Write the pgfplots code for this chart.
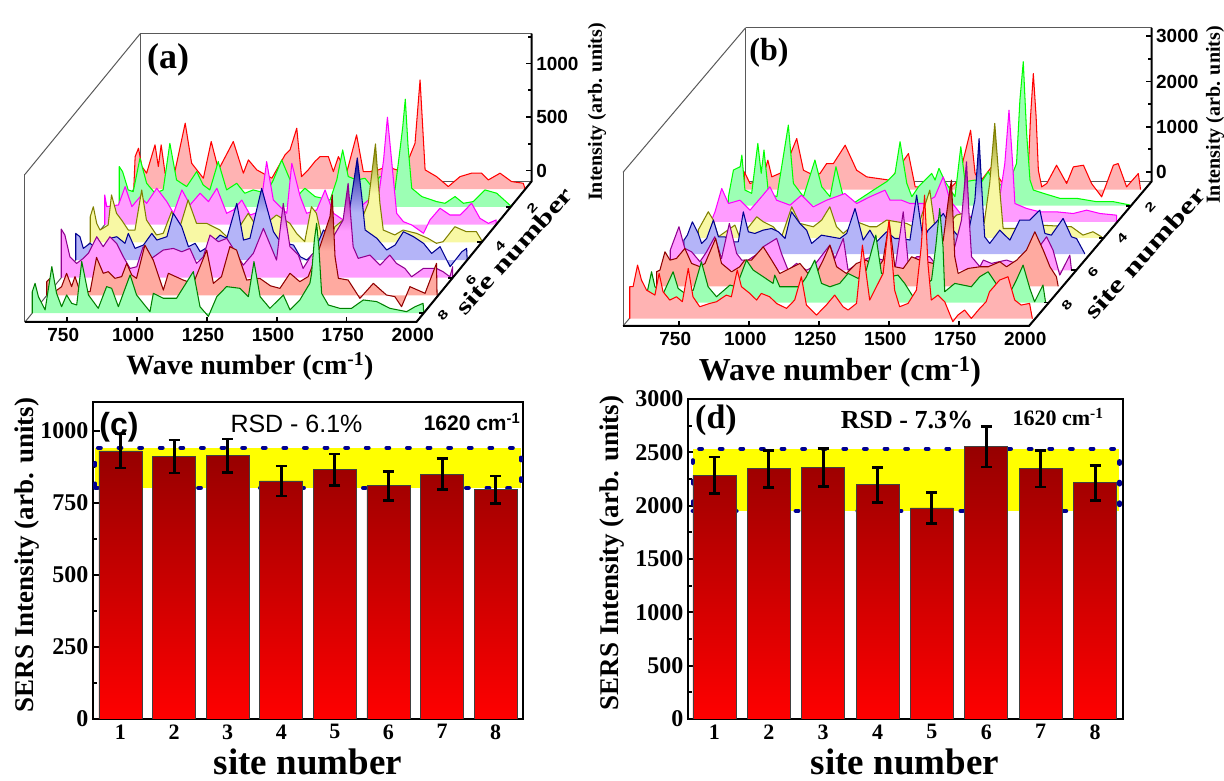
\documentclass[border=0pt]{standalone}
\usepackage{fontspec}
\setmainfont{Liberation Serif}
\setsansfont{Liberation Sans}
\usepackage{pgfplots}
\usepackage{pgfplotstable}
\pgfplotsset{compat=1.18}
\pgfplotsset{every axis/.append style={/pgf/number format/assume math mode=true,/pgf/number format/1000 sep={}}}
\tikzset{tk/.style={black,line width=1.8pt}}
\newcommand\fs[1]{\fontsize{#1}{#1}\selectfont}
\definecolor{pr}{HTML}{FFB3B3}\definecolor{pg}{HTML}{9CFFB4}\definecolor{pm}{HTML}{FF9CFF}
\definecolor{py}{HTML}{F8F8A4}\definecolor{pb}{HTML}{B4B4F8}\definecolor{ps}{HTML}{FFAAA0}
\definecolor{lo}{HTML}{808000}\definecolor{ln}{HTML}{000090}\definecolor{lp}{HTML}{900090}\definecolor{ld}{HTML}{900000}\definecolor{lg}{HTML}{008000}
\definecolor{yel}{RGB}{255,255,0}\definecolor{rr}{RGB}{255,0,0}\definecolor{gg}{RGB}{0,255,0}\definecolor{mm}{RGB}{255,0,255}
\pgfdeclareverticalshading{fn}{100bp}{color(0bp)=(pb);color(50bp)=(pb);color(62bp)=(pb!60!ln);color(75bp)=(ln);color(100bp)=(ln)}
\pgfdeclareverticalshading{fo}{100bp}{color(0bp)=(py);color(50bp)=(py);color(62bp)=(py!60!lo);color(75bp)=(lo);color(100bp)=(lo)}
\pgfdeclareverticalshading{fp}{100bp}{color(0bp)=(pm);color(50bp)=(pm);color(62bp)=(pm!60!lp);color(75bp)=(lp);color(100bp)=(lp)}
\pgfdeclareverticalshading{fd}{100bp}{color(0bp)=(ps);color(50bp)=(ps);color(62bp)=(ps!60!ld);color(75bp)=(ld);color(100bp)=(ld)}
\newcommand\spec[4]{\addplot3[#1,line width=1.05pt,line join=round,#2,forget plot] table[x=w,y expr=#3,z=i]{#4};}

% ---- panel (a)
\pgfplotstableread[row sep=\\]{w i\\600 -100\\605 205\\617 283\\629 112\\646 50\\676 315\\688 112\\698 315\\712 50\\742 3\\784 517\\807 143\\849 3\\877 346\\903 81\\956 346\\992 50\\1010 174\\1040 81\\1094 3\\1141 221\\1159 268\\1183 470\\1200 18\\1224 81\\1248 159\\1266 205\\1296 205\\1314 65\\1332 205\\1361 50\\1397 408\\1421 65\\1445 65\\1475 81\\1504 112\\1540 81\\1582 174\\1606 330\\1624 922\\1642 81\\1683 18\\1725 -75\\1767 18\\1808 50\\1844 50\\1868 -13\\1910 50\\1951 -28\\1993 -44\\2000 -100\\}\aone
\pgfplotstableread[row sep=\\]{w i\\600 -100\\600 277\\612 230\\632 59\\650 43\\674 355\\698 121\\728 28\\757 59\\781 495\\805 152\\841 90\\877 230\\900 106\\924 59\\954 324\\984 59\\1020 121\\1049 28\\1079 59\\1127 28\\1151 152\\1181 339\\1211 152\\1235 -3\\1264 75\\1300 -3\\1354 -35\\1378 152\\1399 433\\1419 184\\1449 152\\1479 168\\1503 90\\1533 184\\1568 152\\1586 59\\1604 433\\1614 651\\1623 907\\1633 464\\1646 75\\1682 -3\\1735 -50\\1765 -66\\1801 -3\\1831 -66\\1866 -50\\1908 59\\1950 28\\1998 -85\\2000 -100\\}\atwo
\pgfplotstableread[row sep=\\]{w i\\600 -100\\600 177\\607 68\\649 84\\673 255\\697 68\\727 162\\750 99\\786 240\\822 115\\846 6\\876 224\\905 84\\941 193\\971 115\\1001 240\\1036 6\\1060 37\\1090 130\\1120 -10\\1155 22\\1179 489\\1203 130\\1251 6\\1269 473\\1299 162\\1322 6\\1358 37\\1388 224\\1418 6\\1453 -56\\1501 37\\1543 130\\1579 162\\1597 499\\1611 904\\1626 499\\1644 6\\1668 -72\\1698 -103\\1740 -181\\1763 -56\\1799 53\\1835 -10\\1871 -10\\1912 99\\1942 -41\\1972 -88\\2000 -56\\2000 -100\\}\athree
\pgfplotstableread[row sep=\\]{w i\\600 -100\\600 140\\611 233\\623 78\\635 15\\664 62\\676 343\\694 171\\712 109\\736 15\\760 15\\784 389\\801 109\\837 -31\\861 -16\\891 187\\921 46\\950 296\\980 78\\1016 78\\1040 46\\1064 15\\1088 -47\\1111 -47\\1165 171\\1195 46\\1231 78\\1266 156\\1314 78\\1338 -16\\1367 -94\\1391 233\\1409 171\\1427 -47\\1451 -109\\1475 46\\1504 109\\1540 140\\1570 109\\1594 265\\1620 820\\1636 265\\1648 15\\1689 -31\\1719 15\\1767 -16\\1808 -63\\1838 -109\\1862 -94\\1904 46\\1945 0\\1981 0\\1999 -78\\2000 -100\\}\afour
\pgfplotstableread[row sep=\\]{w i\\600 -100\\600 149\\615 118\\627 9\\651 56\\675 9\\699 25\\723 103\\747 118\\776 56\\788 149\\812 9\\842 40\\872 149\\890 87\\926 118\\949 336\\979 212\\1003 25\\1027 56\\1045 -22\\1074 25\\1116 134\\1140 103\\1176 430\\1200 87\\1223 103\\1265 570\\1307 165\\1331 71\\1379 40\\1403 -69\\1426 -100\\1450 -38\\1486 181\\1534 56\\1557 118\\1581 399\\1607 854\\1623 492\\1635 181\\1677 103\\1712 -6\\1742 40\\1772 165\\1808 118\\1844 56\\1873 -38\\1903 25\\1939 -162\\1981 -22\\1998 9\\2000 -100\\}\afive
\pgfplotstableread[row sep=\\]{w i\\600 -100\\600 355\\613 299\\631 96\\655 34\\679 81\\697 128\\727 283\\750 190\\774 283\\798 221\\822 96\\846 -13\\870 3\\893 190\\923 81\\965 159\\1001 174\\1031 143\\1060 174\\1084 34\\1108 96\\1132 299\\1162 237\\1192 268\\1215 174\\1251 18\\1287 128\\1323 361\\1370 65\\1394 595\\1418 190\\1448 112\\1465 -13\\1495 112\\1531 190\\1573 283\\1608 439\\1626 782\\1644 190\\1662 81\\1704 112\\1740 18\\1775 112\\1799 34\\1829 -13\\1853 -91\\1895 -13\\1942 -13\\1966 -44\\1990 -91\\2000 3\\2000 -100\\}\asix
\pgfplotstableread[row sep=\\]{w i\\600 -100\\600 29\\612 60\\629 -65\\653 -18\\671 107\\689 -18\\701 76\\719 -65\\755 -65\\778 256\\802 107\\820 122\\844 60\\868 76\\886 200\\904 91\\921 60\\951 371\\981 230\\1017 -50\\1035 107\\1088 44\\1124 10\\1172 324\\1196 13\\1225 76\\1255 356\\1279 324\\1315 44\\1362 60\\1400 -10\\1434 -34\\1470 107\\1505 29\\1535 76\\1577 356\\1613 637\\1621 840\\1631 263\\1643 60\\1678 44\\1720 -127\\1768 13\\1815 -96\\1845 -111\\1869 -205\\1899 -18\\1953 -80\\1994 200\\1996 -100\\}\aseven
\pgfplotstableread[row sep=\\]{w i\\600 -100\\600 100\\610 179\\622 54\\646 -70\\670 335\\687 85\\705 -40\\723 70\\741 -8\\759 -24\\777 382\\801 70\\836 -55\\866 148\\884 132\\908 -40\\950 257\\973 70\\1021 -86\\1033 85\\1069 39\\1116 39\\1176 288\\1200 -40\\1230 -130\\1260 54\\1295 148\\1343 132\\1373 54\\1393 382\\1415 54\\1450 -55\\1498 70\\1522 -70\\1557 23\\1593 179\\1599 270\\1609 585\\1617 740\\1625 520\\1635 85\\1659 -24\\1700 -55\\1742 -55\\1784 23\\1832 8\\1879 -55\\1939 -86\\1969 -40\\1998 -8\\2000 -100\\}\aeight

% ---- panel (b)
\pgfplotstableread[row sep=\\]{w i\\570 -210\\570 181\\590 -77\\608 -40\\626 -151\\654 439\\668 70\\709 181\\757 918\\781 217\\817 107\\840 144\\864 365\\888 365\\930 770\\971 217\\1007 70\\1049 33\\1090 -4\\1156 586\\1180 -151\\1197 -151\\1269 -151\\1310 -151\\1334 -4\\1378 1102\\1394 144\\1412 -40\\1453 291\\1489 -40\\1543 -4\\1584 217\\1592 1397\\1602 2355\\1612 1397\\1620 217\\1632 -151\\1650 -77\\1685 328\\1721 -77\\1745 291\\1781 328\\1810 -77\\1846 -372\\1888 328\\1905 365\\1935 -151\\1977 144\\1985 -210\\}\bone
\pgfplotstableread[row sep=\\]{w i\\562 -210\\562 -11\\580 579\\604 652\\610 910\\621 136\\645 63\\667 1168\\679 505\\689 1021\\705 63\\735 -11\\776 1574\\794 284\\830 -11\\871 800\\895 210\\925 -11\\946 652\\972 -11\\1008 -158\\1044 -11\\1080 136\\1127 321\\1157 505\\1175 1205\\1199 284\\1217 -11\\1241 210\\1288 505\\1300 357\\1314 615\\1336 321\\1371 -11\\1392 1095\\1407 321\\1443 357\\1467 321\\1490 542\\1520 210\\1568 357\\1591 726\\1603 2126\\1615 2974\\1627 1389\\1639 357\\1651 136\\1687 63\\1746 -48\\1806 -48\\1877 -122\\1937 -122\\1996 -195\\1996 -210\\}\btwo
\pgfplotstableread[row sep=\\]{w i\\551 -210\\551 -173\\563 11\\587 527\\611 195\\652 269\\688 48\\724 306\\759 564\\783 269\\831 158\\872 380\\914 122\\962 269\\1027 416\\1069 195\\1116 343\\1170 490\\1188 269\\1229 269\\1259 195\\1307 195\\1348 343\\1378 785\\1402 269\\1444 -63\\1491 -100\\1539 -100\\1575 122\\1598 1080\\1613 2259\\1626 1080\\1634 195\\1676 85\\1723 11\\1783 11\\1842 -26\\1890 48\\1938 -26\\1997 -63\\1997 -210\\}\bthree
\pgfplotstableread[row sep=\\]{w i\\552 -210\\552 -35\\588 370\\606 186\\624 -183\\683 75\\701 -210\\761 259\\784 149\\820 38\\850 -183\\886 480\\915 112\\963 38\\993 186\\1022 480\\1046 38\\1070 -109\\1118 149\\1165 38\\1189 38\\1225 186\\1296 112\\1320 38\\1343 149\\1379 849\\1397 38\\1427 -35\\1474 296\\1498 333\\1540 186\\1573 112\\1593 1000\\1611 2325\\1629 849\\1641 0\\1689 0\\1712 112\\1772 75\\1885 38\\1926 -146\\1962 -72\\1992 -183\\1992 -210\\}\bfour
\pgfplotstableread[row sep=\\]{w i\\550 -210\\550 100\\562 210\\580 505\\601 247\\613 26\\631 136\\655 542\\673 173\\696 173\\726 63\\744 63\\762 726\\780 284\\803 247\\833 321\\863 357\\887 284\\911 136\\934 726\\964 468\\988 321\\1006 26\\1041 210\\1107 136\\1131 247\\1161 800\\1190 100\\1214 321\\1238 63\\1274 284\\1303 136\\1333 136\\1357 100\\1381 1095\\1404 100\\1422 321\\1452 505\\1476 689\\1511 321\\1541 100\\1565 247\\1589 984\\1604 2347\\1616 984\\1624 173\\1642 26\\1678 321\\1714 100\\1749 542\\1785 542\\1821 763\\1839 247\\1862 210\\1904 579\\1934 173\\1952 136\\1981 -195\\1981 -210\\}\bfive
\pgfplotstableread[row sep=\\]{w i\\550 -210\\550 237\\581 753\\602 273\\626 200\\656 -21\\680 200\\709 531\\733 52\\761 826\\787 163\\805 16\\828 16\\864 163\\882 310\\930 495\\947 163\\971 -210\\1001 -58\\1037 -210\\1060 -132\\1120 347\\1138 52\\1168 495\\1185 -206\\1239 16\\1269 89\\1310 16\\1334 -206\\1352 -210\\1382 1084\\1400 -58\\1430 89\\1477 89\\1495 -58\\1525 16\\1566 310\\1590 900\\1608 2190\\1618 900\\1626 89\\1656 -132\\1668 16\\1697 -58\\1751 16\\1786 -58\\1846 126\\1894 531\\1917 237\\1941 -316\\1977 126\\1983 -206\\1983 -210\\}\bsix
\pgfplotstableread[row sep=\\]{w i\\550 -210\\550 114\\562 151\\580 556\\598 372\\621 409\\651 630\\675 299\\705 225\\723 299\\761 851\\782 299\\818 114\\847 225\\865 372\\889 372\\931 667\\961 372\\990 77\\1026 188\\1062 299\\1091 77\\1121 77\\1145 372\\1169 704\\1193 225\\1228 77\\1264 299\\1300 372\\1335 151\\1359 372\\1381 1220\\1401 225\\1431 188\\1461 446\\1490 372\\1538 299\\1574 815\\1592 1699\\1603 2141\\1615 446\\1627 77\\1663 188\\1705 225\\1734 225\\1776 335\\1800 225\\1836 372\\1871 593\\1901 999\\1931 593\\1955 225\\1978 4\\1984 -195\\1984 -210\\}\bseven
\pgfplotstableread[row sep=\\]{w i\\567 -210\\567 66\\581 472\\593 140\\623 -7\\658 472\\676 103\\700 -7\\730 66\\759 693\\783 140\\813 -81\\861 177\\884 140\\920 730\\944 509\\980 361\\1015 214\\1021 398\\1039 140\\1110 140\\1134 361\\1164 730\\1188 214\\1218 140\\1253 214\\1283 435\\1319 324\\1348 509\\1382 1282\\1402 435\\1432 361\\1461 398\\1485 214\\1515 -81\\1539 -7\\1551 140\\1581 288\\1596 1024\\1610 1872\\1622 1024\\1628 30\\1664 214\\1723 140\\1753 361\\1783 472\\1819 140\\1866 66\\1884 288\\1908 619\\1932 103\\1949 -192\\1979 177\\1988 -192\\1988 -210\\}\beight
\pgfplotstableread[row sep=\\]{w i\\552 -210\\552 498\\564 498\\580 977\\594 645\\612 424\\642 313\\657 792\\671 387\\695 203\\719 276\\740 166\\761 903\\778 276\\802 55\\838 129\\862 166\\897 313\\915 276\\936 866\\951 498\\981 350\\1005 203\\1022 350\\1052 276\\1076 129\\1112 18\\1141 203\\1165 719\\1183 92\\1219 -129\\1254 92\\1284 313\\1314 55\\1332 -18\\1362 129\\1383 1419\\1409 203\\1433 498\\1457 792\\1478 1972\\1498 424\\1516 55\\1546 129\\1576 424\\1593 1382\\1605 2524\\1617 1013\\1629 203\\1653 313\\1677 166\\1706 -276\\1724 -129\\1748 -18\\1772 -203\\1802 18\\1825 166\\1837 387\\1873 645\\1903 719\\1927 203\\1950 92\\1980 129\\1990 -210\\}\bnine

\pgfplotsset{
 wall/.style={
  3d box=background,
  axis line style={draw=black!65,line width=1pt},
  major tick length=0pt,minor tick length=0pt,
  grid=none,
  clip=false,
  ticklabel style={font=\sffamily\bfseries\fs{19}},
  ytick=\empty,
  ztick pos=right,
  xtick={750,1000,1250,1500,1750,2000},
  xticklabel style={yshift=-3pt},
  zticklabel style={anchor=west,xshift=1pt},
 },
 barpanel/.style={
  scale only axis,
  axis line style={line width=2pt,draw=black},
  tick style={black,line width=1.8pt},
  tick align=inside,
  major tick length=7pt,minor tick length=4pt,
  xtick={1,...,8},
  xtick pos=bottom,ytick pos=left,
  yticklabel style={font=\bfseries\fs{24},xshift=-1pt},
  xticklabel style={font=\bfseries\fs{22},yshift=-2pt},
  minor y tick num=1,
 },
 rbar/.style={ybar,bar width=43pt,bar shift=0pt,draw=black!75,line width=0.8pt,
   bottom color=rr,top color={rgb,255:red,150;green,0;blue,0},
   error bars/.cd,y dir=both,y explicit,
   error bar style={line width=3pt,black},
   error mark options={rotate=90,mark size=5.5pt,line width=2.6pt,black}},
 band/.style={fill=yel,draw=ln,line width=4.2pt,line cap=round,dash pattern=on 2.6pt off 18pt},
}

\begin{document}
\begin{tikzpicture}[x=1pt,y=1pt]
\useasboundingbox (0,0) rectangle (1224pt,781pt);

% ---------------- (a)
\begin{axis}[wall,at={(25pt,459pt)},anchor=south west,
  x={(0.2796pt,0pt)},y={(-14.5pt,-17.7pt)},z={(0pt,0.107pt)},
  xmin=600,xmax=2000,ymin=0.55,ymax=8.5,zmin=-100,zmax=1280,
  ztick={0,500,1000}]
\spec{rr}{fill=pr}{1}{\aone}
\spec{gg}{fill=pg}{2}{\atwo}
\spec{mm}{fill=pm}{3}{\athree}
\spec{lo}{shading=fo}{4}{\afour}
\spec{ln}{shading=fn}{5}{\afive}
\spec{lp}{shading=fp}{6}{\asix}
\spec{ld}{shading=fd}{7}{\aseven}
\spec{lg}{fill=pg}{8}{\aeight}
\draw[black,line width=2pt] (axis cs:600,8.5,-100)--(axis cs:2000,8.5,-100)--(axis cs:2000,0.55,-100)--(axis cs:2000,0.55,1280);
\pgfplotsinvokeforeach{750,1000,1250,1500,1750}{\draw[tk] (axis cs:#1,8.5,-100)--++(0pt,5pt);}
\pgfplotsinvokeforeach{0,500,1000}{\draw[tk] (axis cs:2000,0.55,#1)--++(-6pt,0pt);}
\pgfplotsinvokeforeach{250,750,1250}{\draw[tk] (axis cs:2000,0.55,#1)--++(-4pt,0pt);}
\pgfplotsinvokeforeach{2,4,6,8}{\draw[tk] (axis cs:2000,#1,-100)--++(-5pt,0pt);}
\end{axis}

% ---------------- (b)
\begin{axis}[wall,at={(623pt,455pt)},anchor=south west,
  x={(0.28pt,0pt)},y={(-13.7pt,-16.15pt)},z={(0pt,0.0452pt)},
  xmin=550,xmax=2000,ymin=0.5,ymax=9.45,zmin=-210,zmax=3190,
  ztick={0,1000,2000,3000}]
\spec{rr}{fill=pr}{1}{\bone}
\spec{gg}{fill=pg}{2}{\btwo}
\spec{mm}{fill=pm}{3}{\bthree}
\spec{lo}{shading=fo}{4}{\bfour}
\spec{ln}{shading=fn}{5}{\bfive}
\spec{lp}{shading=fp}{6}{\bsix}
\spec{ld}{shading=fd}{7}{\bseven}
\spec{lg}{fill=pg}{8}{\beight}
\spec{rr}{fill=pr}{9}{\bnine}
\draw[black,line width=2pt] (axis cs:550,9.45,-210)--(axis cs:2000,9.45,-210)--(axis cs:2000,0.5,-210)--(axis cs:2000,0.5,3190);
\pgfplotsinvokeforeach{750,1000,1250,1500,1750}{\draw[tk] (axis cs:#1,9.45,-210)--++(0pt,5pt);}
\pgfplotsinvokeforeach{0,1000,2000,3000}{\draw[tk] (axis cs:2000,0.5,#1)--++(-6pt,0pt);}
\pgfplotsinvokeforeach{500,1500,2500}{\draw[tk] (axis cs:2000,0.5,#1)--++(-4pt,0pt);}
\pgfplotsinvokeforeach{2,4,6,8}{\draw[tk] (axis cs:2000,#1,-210)--++(-5pt,0pt);}
\end{axis}

% ---------------- (c)
\begin{axis}[barpanel,at={(93pt,62pt)},anchor=south west,width=430pt,height=317pt,
  xmin=0.488,xmax=8.51,ymin=0,ymax=1100,ytick={0,250,500,750,1000}]
\addplot[band] coordinates {(0.53,802)(8.47,802)(8.47,941)(0.53,941)} -- cycle;
\addplot[rbar] coordinates {(1,930)+-(0,59)(2,911)+-(0,57)(3,914)+-(0,58)(4,826)+-(0,52)(5,865)+-(0,54)(6,809)+-(0,50)(7,850)+-(0,53)(8,795)+-(0,48)};
\end{axis}

% ---------------- (d)
\begin{axis}[barpanel,at={(688pt,62pt)},anchor=south west,width=435pt,height=320pt,
  xmin=0.513,xmax=8.515,ymin=0,ymax=3000,ytick={0,500,1000,1500,2000,2500,3000}]
\addplot[band] coordinates {(0.6,1951)(8.45,1951)(8.45,2533)(0.6,2533)} -- cycle;
\addplot[rbar] coordinates {(1,2285)+-(0,170)(2,2345)+-(0,172)(3,2357)+-(0,178)(4,2195)+-(0,163)(5,1979)+-(0,147)(6,2552)+-(0,188)(7,2345)+-(0,170)(8,2214)+-(0,163)};
\end{axis}

% ---------------- text
\newcommand\T[4][]{\node[inner sep=0pt,#1] at (#2pt,781pt-#3pt) {#4};}
\newcommand\Ts[3]{\node[inner sep=0pt,transform shape,rotate=48,yscale=0.72] at (#1pt,781pt-#2pt) {#3};}
\T{168}{60}{\bfseries\fs{36}(a)}
\T{769}{53}{\bfseries\fs{32}(b)}
\T{119}{427}{\sffamily\bfseries\fs{32}(c)}
\T{716}{420}{\bfseries\fs{34}(d)}
\T{296.5}{424}{\sffamily\fs{25}RSD - 6.1\%}
\T{907}{420}{\bfseries\fs{26}RSD - 7.3\%}
\T{472}{422}{\sffamily\bfseries\fs{21}1620 cm\textsuperscript{-1}}
\T{1058}{417}{\bfseries\fs{22}1620 cm\textsuperscript{-1}}
\T{250}{367}{\bfseries\fs{28}Wave number (cm\textsuperscript{-1})}
\T{840}{372}{\bfseries\fs{32}Wave number (cm\textsuperscript{-1})}
\T{308}{762}{\bfseries\fs{37}site number}
\T{905}{762}{\bfseries\fs{37}site number}
\T[rotate=90]{27}{555}{\bfseries\fs{27}SERS Intensity (arb. units)}
\T[rotate=90]{612}{553}{\bfseries\fs{27}SERS Intensity (arb. units)}
\T[rotate=90]{597}{112}{\bfseries\fs{20}Intensity (arb. units)}
\T[rotate=90]{1215}{115}{\bfseries\fs{20}Intensity (arb. units)}
\Ts{514}{251}{\bfseries\fs{32}site number}
\Ts{1145}{253}{\bfseries\fs{33}site number}
\Ts{532}{208}{\sffamily\bfseries\fs{17}2}
\Ts{500}{246}{\sffamily\bfseries\fs{17}4}
\Ts{471}{280}{\sffamily\bfseries\fs{17}6}
\Ts{443}{315}{\sffamily\bfseries\fs{17}8}
\Ts{1150}{207}{\sffamily\bfseries\fs{17}2}
\Ts{1122}{238}{\sffamily\bfseries\fs{17}4}
\Ts{1093}{272}{\sffamily\bfseries\fs{17}6}
\Ts{1067}{305}{\sffamily\bfseries\fs{17}8}
\end{tikzpicture}
\end{document}
